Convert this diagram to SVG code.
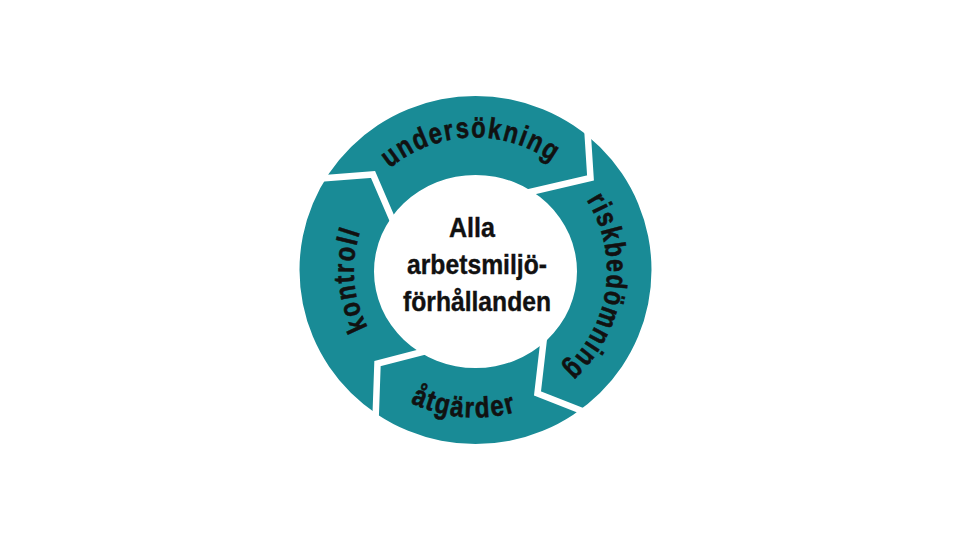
<svg xmlns="http://www.w3.org/2000/svg" xmlns:xlink="http://www.w3.org/1999/xlink" width="954" height="537" viewBox="0 0 954 537">
  <style>
    .seg { fill: #198b96; }
    .lbl { font-family: "Liberation Sans Narrow", "Arial Narrow", "Liberation Sans", sans-serif; font-weight: bold; font-size: 29px; fill: #111111; stroke: #111111; stroke-width: 0.6; }
    .ctr { font-family: "Liberation Sans Narrow", "Arial Narrow", "Liberation Sans", sans-serif; font-weight: bold; font-size: 28.5px; fill: #111111; stroke: #111111; stroke-width: 0.4; text-anchor: middle; }
    .gap { fill: none; stroke: #ffffff; stroke-width: 6.5; stroke-linejoin: miter; stroke-linecap: butt; }
  </style>
  <defs>
    <path id="ring" fill-rule="evenodd" d="M 299.5 270 A 176 174 0 1 0 651.5 270 A 176 174 0 1 0 299.5 270 Z M 374 271.5 A 101.5 96.5 0 1 1 577 271.5 A 101.5 96.5 0 1 1 374 271.5 Z"/>
    <clipPath id="clipU"><polygon points="398,232.5 373,174.5 295,180.4 295,40 585.5,40 585.5,100 590.5,178 528,192.5 475,271"/></clipPath>
    <clipPath id="clipR"><polygon points="528,192.5 590.5,178 585.5,100 690,100 690,430 600,418 537.5,393.5 544.5,333 475,271"/></clipPath>
    <clipPath id="clipA"><polygon points="544.5,333 537.5,393.5 600,418 610,490 370,490 375,435 377.5,363.5 430,350 475,271"/></clipPath>
    <clipPath id="clipK"><polygon points="430,350 377.5,363.5 375,435 270,440 270,180.4 295,180.4 373,174.5 398,232.5 475,271"/></clipPath>
    <path id="pU" d="M 343.29 251.99 A 133 133 0 0 1 605.09 242.85"/>
    <path id="pR" d="M 516.23 145.10 A 132 132 0 0 1 479.15 402.44"/>
    <path id="pA" d="M 328.62 284.09 A 147 147 0 0 0 617.19 307.80"/>
    <path id="pK" d="M 463.06 391.00 A 121 121 0 0 1 445.16 153.24"/>
  </defs>
  <g id="undersokning">
    <use xlink:href="#ring" class="seg" clip-path="url(#clipU)"/>
    <text class="lbl" letter-spacing="2"><textPath xlink:href="#pU" startOffset="50%" text-anchor="middle" textLength="176" lengthAdjust="spacingAndGlyphs">undersökning</textPath></text>
  </g>
  <g id="riskbedomning">
    <use xlink:href="#ring" class="seg" clip-path="url(#clipR)"/>
    <text class="lbl" letter-spacing="2"><textPath xlink:href="#pR" startOffset="50%" text-anchor="middle" textLength="187" lengthAdjust="spacingAndGlyphs">riskbedömning</textPath></text>
  </g>
  <g id="atgarder">
    <use xlink:href="#ring" class="seg" clip-path="url(#clipA)"/>
    <text class="lbl" letter-spacing="2"><textPath xlink:href="#pA" startOffset="50%" text-anchor="middle" textLength="110" lengthAdjust="spacingAndGlyphs">åtgärder</textPath></text>
  </g>
  <g id="kontroll">
    <use xlink:href="#ring" class="seg" clip-path="url(#clipK)"/>
    <text class="lbl" letter-spacing="2"><textPath xlink:href="#pK" startOffset="50%" text-anchor="middle" textLength="100" lengthAdjust="spacingAndGlyphs">kontroll</textPath></text>
  </g>
  <g id="separators">
    <polyline class="gap" points="295,180.4 373,174.5 398,232.5"/>
    <polyline class="gap" points="585.5,100 590.5,178 528,192.5"/>
    <polyline class="gap" points="544.5,333 537.5,393.5 600,418"/>
    <polyline class="gap" points="430,350 377.5,363.5 375,435"/>
  </g>
  <g id="center">
    <text class="ctr" x="472" y="237" textLength="46" lengthAdjust="spacingAndGlyphs">Alla</text>
    <text class="ctr" x="477" y="274" textLength="140" lengthAdjust="spacingAndGlyphs">arbetsmiljö-</text>
    <text class="ctr" x="477" y="311" textLength="148" lengthAdjust="spacingAndGlyphs">förhållanden</text>
  </g>
</svg>
